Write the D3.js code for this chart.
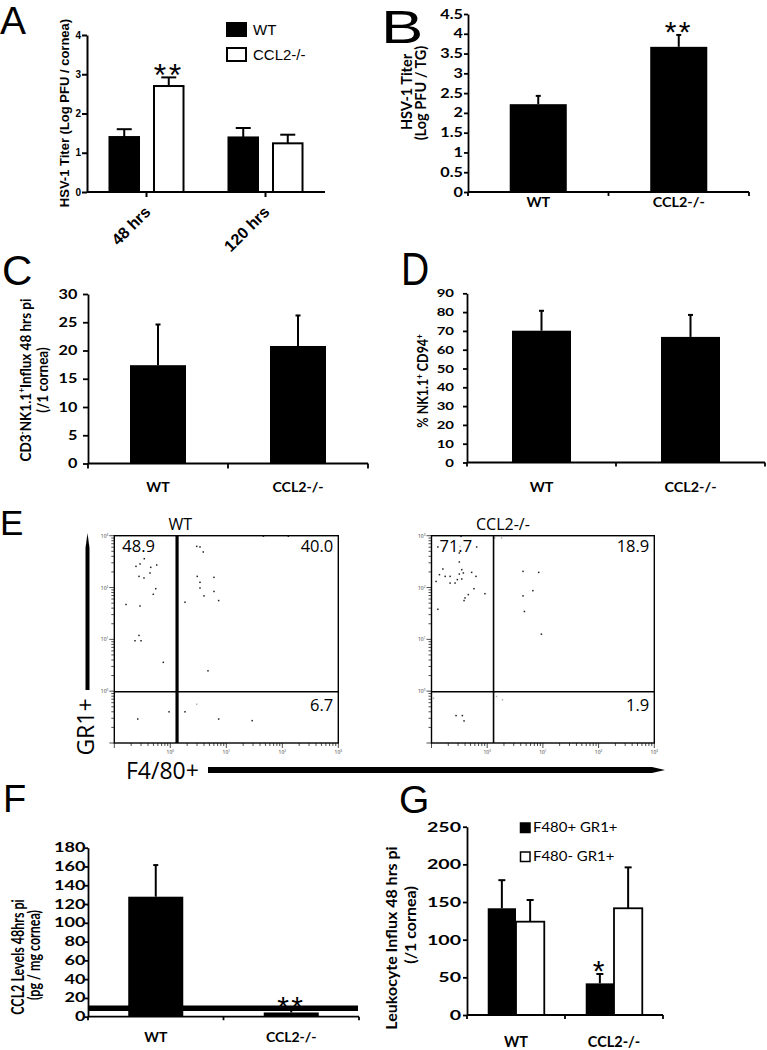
<!DOCTYPE html>
<html><head><meta charset="utf-8">
<script src="https://cdn.jsdelivr.net/npm/d3@7"></script>
<style>body{margin:0;background:#fff}svg{display:block}</style>
</head><body>
<script>
// ================= DATA =================
// Panel A: HSV-1 titer in cornea (log PFU / cornea)
const aGroups = ['48 hrs', '120 hrs'];
const aSeries = ['WT', 'CCL2-/-'];
const aWT = [1.40, 1.39];
const aWTerr = [0.20, 0.24];
const aKO = [2.70, 1.24];
const aKOerr = [0.22, 0.22];
const aTicks = [0, 1, 2, 3, 4];
const aStars = [['', ''], ['**', '']]; // [series][group]

// Panel B: HSV-1 titer in TG
const bCats = ['WT', 'CCL2-/-'];
const bVals = [2.22, 3.67];
const bErrs = [0.21, 0.30];
const bTicks = [0, 0.5, 1, 1.5, 2, 2.5, 3, 3.5, 4, 4.5];
const bStars = ['', '**'];

// Panel C: CD3- NK1.1+ influx
const cCats = ['WT', 'CCL2-/-'];
const cVals = [17.4, 20.8];
const cErrs = [7.2, 5.4];
const cTicks = [0, 5, 10, 15, 20, 25, 30];

// Panel D: % NK1.1+ CD94+
const dCats = ['WT', 'CCL2-/-'];
const dVals = [70.1, 66.8];
const dErrs = [10.6, 11.7];
const dTicks = [0, 10, 20, 30, 40, 50, 60, 70, 80, 90];

// Panel E: flow cytometry (F4/80 vs GR1), values in fluorescence units
const eTitles = ['WT', 'CCL2-/-'];
const eQuadWT = ['48.9', '40.0', '6.7'];
const eQuadKO = ['71.7', '18.9', '1.9'];
const eGateX = [1.32, 1.30];
const eGateY = [0.97, 0.97];
const eDecades = [0, 1, 2, 3];
const eDotsWT = [
  [0.244,256],[0.288,285],[0.343,360],[0.447,245],[0.572,272],[0.276,164],[0.339,153],[0.434,191],
  [0.549,95],[0.497,74],[0.162,47],[0.288,44],[0.276,11.9],[0.234,9.4],[0.30,9.4],[0.75,3.6],
  [2.96,622],[3.39,606],[3.88,485],[3.03,164],[6.03,157],[3.39,126],[3.39,98],[6.03,84],[4.0,69],
  [7.3,56],[1.83,52],[4.71,2.47],[46,980],[128,980],
  [0.95,0.40],[1.83,0.40],[0.262,0.29],[7.3,0.29],[29,0.27]
];
const eFaintWT = [[0.143,588],[0.251,537],[0.176,499],[2.96,0.56]];
const eDotsKO = [
  [0.130,606],[0.339,971],[0.647,606],[0.316,464],[0.316,311],[0.160,228],[0.349,221],[0.373,191],
  [0.526,196],[0.139,177],[0.176,164],[0.216,164],[0.316,182],[0.628,164],[0.121,131],[0.291,142],
  [0.216,122],[0.265,122],[0.349,146],[0.579,95],[0.91,76],[0.458,73],[0.40,63],[0.384,56],[0.130,38],
  [4.4,205],[8.4,196],[6.6,87],[4.4,69],[4.65,34.5],[9.4,12.6],
  [0.276,0.338],[0.358,0.338],[0.384,0.267]
];
const eFaintKO = [[0.164,580],[0.326,622],[1.37,905],[1.81,905],[0.109,0.73],[1.47,0.79],[1.88,0.68]];

// Panel F: CCL2 levels
const fCats = ['WT', 'CCL2-/-'];
const fVals = [127.8, 4.5];
const fErrs = [33.7, 3.0];
const fTicks = [0, 20, 40, 60, 80, 100, 120, 140, 160, 180];
const fLimit = 9;
const fStars = ['', '**'];

// Panel G: leukocyte influx
const gCats = ['WT', 'CCL2-/-'];
const gSeries = ['F480+ GR1+', 'F480- GR1+'];
const gPos = [141.7, 42.0];
const gPosErr = [37.3, 12.4];
const gNeg = [123.9, 141.7];
const gNegErr = [28.8, 54.3];
const gTicks = [0, 50, 100, 150, 200, 250];
const gStars = [['', '*'], ['', '']];

// ================= DRAWING =================
const FXL = "Lato, 'Open Sans', sans-serif";
const FGP = "'Liberation Sans', Arial, sans-serif";
const FFL = "'Open Sans', 'Noto Sans', sans-serif";

const svg = d3.select('body').append('svg').attr('width', 767).attr('height', 1050);

function addText(g, x, y, content, o = {}) {
  let tr = `translate(${x},${y})`;
  if (o.sx && o.sx !== 1) tr += ` scale(${o.sx},1)`;
  if (o.rot) tr += ` rotate(${o.rot})`;
  const size = o.size || 12;
  const t = g.append('text').attr('transform', tr)
    .attr('text-anchor', o.anchor || 'start')
    .attr('font-family', o.font || FXL)
    .attr('font-size', size)
    .attr('font-weight', o.weight || 'normal')
    .attr('fill', o.fill || '#000');
  if (o.ls) t.attr('letter-spacing', o.ls);
  const parts = Array.isArray(content) ? content : [[content, false]];
  let up = false;
  parts.forEach(([s, sup]) => {
    const sp = t.append('tspan').text(s);
    if (sup && !up) { sp.attr('dy', -size * 0.38).attr('font-size', size * 0.62); up = true; }
    else if (sup) { sp.attr('font-size', size * 0.62); }
    else if (up) { sp.attr('dy', size * 0.38); up = false; }
  });
  return t;
}

function yAxis(g, y, x0, ticks, o) {
  const ax = g.append('g').attr('transform', `translate(${x0},0)`)
    .call(d3.axisLeft(y).tickValues(ticks).tickSizeInner(o.tl).tickSizeOuter(0).tickFormat(d3.format('')));
  ax.select('.domain').attr('stroke', '#000').attr('stroke-width', o.sw);
  ax.selectAll('.tick line').attr('stroke', '#000').attr('stroke-width', o.sw);
  ax.selectAll('.tick text')
    .attr('x', -o.gap / o.sx)
    .attr('transform', `scale(${o.sx},1)`)
    .attr('fill', '#000')
    .attr('font-family', o.font)
    .attr('font-size', o.size)
    .attr('font-weight', o.weight || 'bold');
  return ax;
}

function errBar(g, cx, yTop, yErr, cap, sw) {
  g.append('line').attr('x1', cx).attr('x2', cx).attr('y1', yTop).attr('y2', yErr)
    .attr('stroke', '#000').attr('stroke-width', sw);
  g.append('line').attr('x1', cx - cap / 2).attr('x2', cx + cap / 2).attr('y1', yErr).attr('y2', yErr)
    .attr('stroke', '#000').attr('stroke-width', sw);
}

function star(g, cx, yErrTop, s, size) {
  if (!s) return;
  addText(g, cx, yErrTop - 8.5 + size * 0.52, s, { anchor: 'middle', size: size, font: FGP, ls: size * 0.08 });
}

// Excel-like bar panel
function excelPanel(c) {
  const g = svg.append('g');
  const y = d3.scaleLinear().domain([0, c.ticks[c.ticks.length - 1]]).range(c.yRange);
  const x = d3.scaleBand().domain(c.cats).range(c.xRange).paddingInner(c.pad).paddingOuter(c.pad / 2);
  const sub = d3.scaleBand().domain(c.series.map(s => s.name)).range([0, x.bandwidth()]).padding(0);
  c.series.forEach(s => {
    const rows = c.cats.map((k, i) => ({ k, v: s.vals[i], e: s.errs[i], st: (s.stars || [])[i] }));
    g.selectAll(null).data(rows).join('rect')
      .attr('x', d => x(d.k) + sub(s.name)).attr('y', d => y(d.v))
      .attr('width', sub.bandwidth()).attr('height', d => y(0) - y(d.v))
      .attr('fill', s.fill).attr('stroke', '#000').attr('stroke-width', s.fill === '#fff' ? 1.8 : 0);
    rows.forEach(d => {
      const cx = x(d.k) + sub(s.name) + sub.bandwidth() / 2;
      errBar(g, cx, y(d.v), y(d.v + d.e), c.cap, c.esw);
      star(g, cx, y(d.v + d.e), d.st, c.starSize || 30);
    });
  });
  if (c.limit !== undefined) {
    g.append('line').attr('x1', c.xRange[0]).attr('x2', c.xRange[1] - 1)
      .attr('y1', y(c.limit)).attr('y2', y(c.limit)).attr('stroke', '#000').attr('stroke-width', 5.5);
  }
  // x axis with boundary ticks
  const y0 = y(0);
  g.append('line').attr('x1', c.xRange[0]).attr('x2', c.xRange[1]).attr('y1', y0).attr('y2', y0)
    .attr('stroke', '#000').attr('stroke-width', c.sw);
  d3.range(c.cats.length + 1).forEach(i => {
    const bx = c.xRange[0] + i * x.step();
    g.append('line').attr('x1', bx).attr('x2', bx).attr('y1', y0).attr('y2', y0 + c.tl)
      .attr('stroke', '#000').attr('stroke-width', c.sw);
  });
  c.cats.forEach(k => {
    addText(g, x(k) + x.bandwidth() / 2, c.catY, k, { anchor: 'middle', size: c.catSize, weight: 'bold', sx: c.catSx || 1 });
  });
  yAxis(g, y, c.xRange[0], c.ticks, { tl: c.tl, sw: c.sw, gap: c.gap, sx: c.sx, size: c.tickSize, font: FXL });
  return { g, x, y };
}

// Panel letters
const L = (s, x, y, size, sx) => addText(svg, x, y, s, { size, font: FGP, sx: sx || 1 });
L('A', 0, 34, 39);
L('B', 381, 43, 47, 1.35);
L('C', 2, 285, 42);
L('D', 401, 285, 46, 0.85);
L('E', 0, 535, 35);
L('F', 3, 812, 38);
L('G', 399, 813, 39);

// ---------- Panel A (GraphPad style) ----------
(function () {
  const g = svg.append('g');
  const y = d3.scaleLinear().domain([0, 4]).range([192, 35]);
  const x = d3.scaleBand().domain(aGroups).range([87, 325]).paddingInner(0.378).paddingOuter(0.189);
  const sub = d3.scaleBand().domain(aSeries).range([0, x.bandwidth()]).paddingInner(0.337);
  const ser = [
    { name: aSeries[0], vals: aWT, errs: aWTerr, fill: '#000' },
    { name: aSeries[1], vals: aKO, errs: aKOerr, fill: '#fff' }
  ];
  ser.forEach((s, si) => {
    aGroups.forEach((grp, i) => {
      const bx = x(grp) + sub(s.name);
      const cx = bx + sub.bandwidth() / 2;
      errBar(g, cx, y(s.vals[i]), y(s.vals[i] + s.errs[i]), 15, 2);
      g.append('rect').attr('x', bx).attr('y', y(s.vals[i])).attr('width', sub.bandwidth())
        .attr('height', y(0) - y(s.vals[i])).attr('fill', s.fill).attr('stroke', '#000').attr('stroke-width', 2);
      star(g, cx, y(s.vals[i] + s.errs[i]), aStars[si][i], 32);
    });
  });
  g.append('line').attr('x1', 87).attr('x2', 325).attr('y1', 192).attr('y2', 192).attr('stroke', '#000').attr('stroke-width', 2);
  aGroups.forEach(grp => {
    const cx = x(grp) + x.bandwidth() / 2;
    g.append('line').attr('x1', cx).attr('x2', cx).attr('y1', 192).attr('y2', 197).attr('stroke', '#000').attr('stroke-width', 2);
    addText(g, cx + 5, 213, grp, { anchor: 'end', rot: -45, size: 16, weight: 'bold', font: FGP });
  });
  yAxis(g, y, 87, aTicks, { tl: 5, sw: 2, gap: 6, sx: 1, size: 10, font: FGP });
  addText(g, 68.5, 113, 'HSV-1 Titer (Log PFU / cornea)', { anchor: 'middle', rot: -90, size: 13, weight: 'bold', font: FGP });
  // legend
  aSeries.forEach((s, i) => {
    g.append('rect').attr('x', 227).attr('y', 23 + i * 25).attr('width', 19).attr('height', 13)
      .attr('fill', ser[i].fill).attr('stroke', '#000').attr('stroke-width', 2);
    addText(g, 253, 35 + i * 25, s, { size: 15, font: FGP });
  });
})();

// ---------- Panel B ----------
(function () {
  const p = excelPanel({
    cats: bCats, series: [{ name: 'v', vals: bVals, errs: bErrs, fill: '#000', stars: bStars }],
    ticks: bTicks, xRange: [468, 749], yRange: [192, 14], pad: 0.594,
    tl: 4, sw: 1.8, gap: 5, sx: 1.3, tickSize: 12.5, catY: 207, catSize: 12.5, catSx: 1.15, cap: 5, esw: 2
  });
  addText(p.g, 412, 92, 'HSV-1 Titer', { anchor: 'middle', rot: -90, size: 14.5, weight: 'bold', sx: 1.1 });
  addText(p.g, 426, 93, '(Log PFU / TG)', { anchor: 'middle', rot: -90, size: 14.5, weight: 'bold', sx: 1.1 });
})();

// ---------- Panel C ----------
(function () {
  const p = excelPanel({
    cats: cCats, series: [{ name: 'v', vals: cVals, errs: cErrs, fill: '#000' }],
    ticks: cTicks, xRange: [88, 368], yRange: [463.5, 294], pad: 0.6,
    tl: 5, sw: 1.8, gap: 10.7, sx: 1.3, tickSize: 12.5, catY: 492, catSize: 13.5, catSx: 1.05, cap: 5, esw: 2
  });
  addText(p.g, 31, 380, [['CD3', false], ['-', true], ['NK1.1', false], ['+', true], ['Influx 48 hrs pi', false]],
    { anchor: 'middle', rot: -90, size: 13.5, weight: 'bold', sx: 1.15 });
  addText(p.g, 47.5, 380, '(/1 cornea)', { anchor: 'middle', rot: -90, size: 13.5, weight: 'bold', sx: 1.15 });
})();

// ---------- Panel D ----------
(function () {
  const p = excelPanel({
    cats: dCats, series: [{ name: 'v', vals: dVals, errs: dErrs, fill: '#000' }],
    ticks: dTicks, xRange: [467, 765], yRange: [462.5, 293.3], pad: 0.604,
    tl: 4, sw: 1.8, gap: 13, sx: 1.3, tickSize: 11.5, catY: 491.5, catSize: 12.5, catSx: 1.15, cap: 5, esw: 2
  });
  addText(p.g, 428, 381, [['% NK1.1', false], ['+', true], [' CD94', false], ['+', true]],
    { anchor: 'middle', rot: -90, size: 12.5, weight: 'bold', sx: 1.15 });
})();

// ---------- Panel E (flow plots) ----------
function flow(c) {
  const g = svg.append('g');
  const x = d3.scaleLog().domain([0.1, 1000]).range([c.left, c.right]);
  const y = d3.scaleLog().domain([0.1, 1000]).range([c.bottom, c.top]);
  const isMajor = v => Math.abs(Math.log10(v) - Math.round(Math.log10(v))) < 1e-9;
  y.ticks().forEach(v => {
    g.append('line').attr('x1', c.left).attr('x2', c.left - (isMajor(v) ? 5 : 3))
      .attr('y1', y(v)).attr('y2', y(v)).attr('stroke', '#222').attr('stroke-width', 0.8);
  });
  x.ticks().forEach(v => {
    g.append('line').attr('x1', x(v)).attr('x2', x(v)).attr('y1', c.bottom).attr('y2', c.bottom + (isMajor(v) ? 5 : 3))
      .attr('stroke', '#222').attr('stroke-width', 0.8);
  });
  eDecades.forEach(d => {
    addText(g, c.left - 6, y(Math.pow(10, d)) + 2, [['10', false], [String(d), true]], { anchor: 'end', size: 5, font: FFL, fill: '#333' });
    addText(g, x(Math.pow(10, d)), c.bottom + 11, [['10', false], [String(d), true]], { anchor: 'middle', size: 5, font: FFL, fill: '#333' });
  });
  g.selectAll(null).data(c.faint).join('rect')
    .attr('x', d => x(d[0]) - 0.7).attr('y', d => y(d[1]) - 0.7).attr('width', 1.4).attr('height', 1.4).attr('fill', '#aaa');
  g.selectAll(null).data(c.dots).join('rect')
    .attr('x', d => x(d[0]) - 0.75).attr('y', d => y(d[1]) - 0.75).attr('width', 1.5).attr('height', 1.5).attr('fill', '#222');
  g.append('rect').attr('x', c.left).attr('y', c.top).attr('width', c.right - c.left).attr('height', c.bottom - c.top)
    .attr('fill', 'none').attr('stroke', '#000').attr('stroke-width', 1.4);
  g.append('line').attr('x1', x(c.gx)).attr('x2', x(c.gx)).attr('y1', c.top).attr('y2', c.bottom)
    .attr('stroke', '#000').attr('stroke-width', c.gw);
  g.append('line').attr('x1', c.left).attr('x2', c.right).attr('y1', y(c.gy)).attr('y2', y(c.gy))
    .attr('stroke', '#000').attr('stroke-width', 1.5);
  addText(g, (c.left + c.right) / 2 + c.titleDx, 530, c.title, { anchor: 'middle', size: 16, font: FFL });
  addText(g, c.left + 8, 552, c.quad[0], { size: 16.5, font: FFL });
  addText(g, c.right - 5, 552, c.quad[1], { anchor: 'end', size: 16.5, font: FFL });
  addText(g, c.right - 5, 711, c.quad[2], { anchor: 'end', size: 16.5, font: FFL });
}
flow({ left: 114.3, right: 338.3, top: 535.7, bottom: 743, dots: eDotsWT, faint: eFaintWT, gx: eGateX[0], gy: eGateY[0], gw: 3.2,
  title: eTitles[0], titleDx: -46, quad: eQuadWT });
flow({ left: 431.5, right: 654.3, top: 535.7, bottom: 743, dots: eDotsKO, faint: eFaintKO, gx: eGateX[1], gy: eGateY[1], gw: 1.6,
  title: eTitles[1], titleDx: -40, quad: eQuadKO });
// axis arrows and titles
svg.append('path').attr('d', 'M85.5,690 L85.5,548 L87.5,533 L89.5,548 L89.5,690 Z').attr('fill', '#000');
svg.append('path').attr('d', 'M208,767 L652,767 L665,770 L652,773 L208,773 Z').attr('fill', '#000');
addText(svg, 93.5, 727, 'GR1+', { anchor: 'middle', rot: -90, size: 23, font: FFL });
addText(svg, 126, 779, 'F4/80+', { size: 23, font: FFL });

// ---------- Panel F ----------
(function () {
  const p = excelPanel({
    cats: fCats, series: [{ name: 'v', vals: fVals, errs: fErrs, fill: '#000', stars: fStars }],
    ticks: fTicks, xRange: [88, 359], yRange: [1016.7, 847.7], pad: 0.594,
    tl: 3.5, sw: 1.8, gap: 2.5, sx: 1.45, tickSize: 12.5, catY: 1041.7, catSize: 14, catSx: 1.0, cap: 5, esw: 2, limit: fLimit
  });
  addText(p.g, 23.5, 957, 'CCL2 Levels 48hrs pi', { anchor: 'middle', rot: -90, size: 12.5, weight: 'bold', sx: 1.3 });
  addText(p.g, 40, 955, '(pg / mg cornea)', { anchor: 'middle', rot: -90, size: 12.5, weight: 'bold', sx: 1.3 });
})();

// ---------- Panel G ----------
(function () {
  const p = excelPanel({
    cats: gCats,
    series: [
      { name: gSeries[0], vals: gPos, errs: gPosErr, fill: '#000', stars: gStars[0] },
      { name: gSeries[1], vals: gNeg, errs: gNegErr, fill: '#fff', stars: gStars[1] }
    ],
    ticks: gTicks, xRange: [467, 663], yRange: [1015, 826.7], pad: 0.423,
    tl: 4, sw: 1.8, gap: 6, sx: 1.4, tickSize: 14, catY: 1046.5, catSize: 14.5, catSx: 1, cap: 7, esw: 2
  });
  addText(p.g, 397, 938, 'Leukocyte Influx 48 hrs pi', { anchor: 'middle', rot: -90, size: 16, weight: 'bold' });
  addText(p.g, 415.5, 925, '(/1 cornea)', { anchor: 'middle', rot: -90, size: 16, weight: 'bold' });
  gSeries.forEach((s, i) => {
    p.g.append('rect').attr('x', 520.5).attr('y', 823 + i * 29).attr('width', 9.5).attr('height', 9.5)
      .attr('fill', i === 0 ? '#000' : '#fff').attr('stroke', '#000').attr('stroke-width', 1.5);
    addText(p.g, 533, 832 + i * 29, s, { size: 13, sx: 1.15 });
  });
})();
</script>
</body></html>
